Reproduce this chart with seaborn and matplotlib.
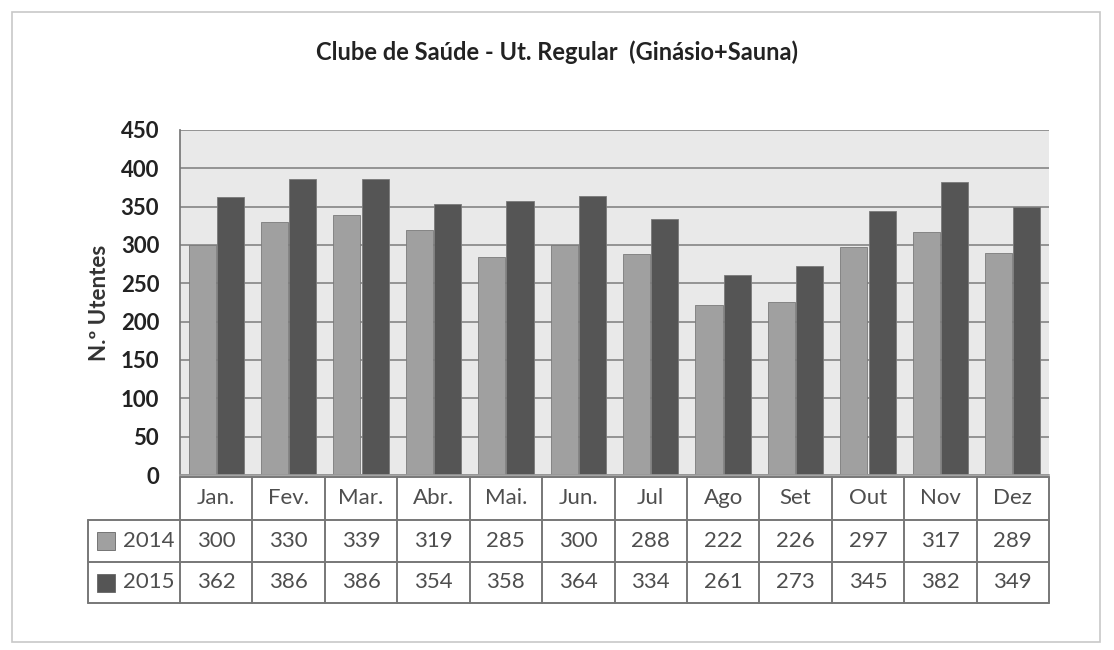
"""
plot.py
Clube de Saúde - utilização regular, 2014 vs 2015, com tabela de dados por baixo.
"""

import numpy as np
import pandas as pd
import matplotlib.pyplot as plt
import matplotlib.transforms as mtransforms
from matplotlib.patches import Rectangle
import seaborn as sns

months   = ["Jan.", "Fev.", "Mar.", "Abr.", "Mai.", "Jun.",
            "Jul", "Ago", "Set", "Out", "Nov", "Dez"]
years    = ["2014", "2015"]
vals2014 = [300, 330, 339, 319, 285, 300, 288, 222, 226, 297, 317, 289]
vals2015 = [362, 386, 386, 354, 358, 364, 334, 261, 273, 345, 382, 349]
yticks   = [0, 50, 100, 150, 200, 250, 300, 350, 400, 450]

title  = "Clube de Saúde - Ut. Regular  (Ginásio+Sauna)"
ylabel = "N.º Utentes"

colors = {"2014": "#a0a0a0", "2015": "#555555"}

df = pd.DataFrame({
    "mes":   months * 2,
    "ano":   ["2014"] * len(months) + ["2015"] * len(months),
    "valor": vals2014 + vals2015,
})

sns.set_theme(style="white")
plt.rcParams["font.family"] = ["Lato", "DejaVu Sans"]

W, H = 1114, 650
fig = plt.figure(figsize=(W / 100, H / 100), dpi=100)

# outer chart frame
fig.patches.append(Rectangle((12 / W, 8 / H), 1088 / W, 630 / H,
                             transform=fig.transFigure, fill=False,
                             edgecolor="#c8c8c8", lw=1.2))

ax_l, ax_r, ax_t, ax_b = 180, 1049, 130, 475
ax = fig.add_axes([ax_l / W, 1 - ax_b / H, (ax_r - ax_l) / W, (ax_b - ax_t) / H])
ax.set_facecolor("#e9e9e9")

sns.barplot(data=df, x="mes", y="valor", hue="ano", order=months,
            hue_order=years, palette=colors, width=0.78, gap=0.04,
            edgecolor="#7a7a7a", linewidth=0.6, legend=False, ax=ax)

ax.set_xlim(-0.5, len(months) - 0.5)
ax.set_ylim(0, 450)
ax.set_yticks(yticks)
ax.set_yticklabels([str(t) for t in yticks], fontsize=16, fontweight="bold",
                   color="#222222")
ax.tick_params(axis="y", length=5, width=1, color="#777777", pad=10)
ax.set_xticks([])
ax.set_xlabel("")
ax.set_ylabel(ylabel, fontsize=16, fontweight="bold", color="#333333", labelpad=8)
ax.yaxis.grid(True, color="#7c7c7c", lw=1.1)
ax.set_axisbelow(True)
for side in ["top", "right"]:
    ax.spines[side].set_visible(False)
ax.spines["left"].set_color("#777777")
ax.spines["bottom"].set_color("#999999")

fig.text(0.5, 1 - 52 / H, title, ha="center", va="center",
         fontsize=17, fontweight="bold", color="#222222")

# data table underneath the axes
trans = mtransforms.blended_transform_factory(ax.transData, ax.transAxes)
ax_h = ax_b - ax_t
band = (ax_r - ax_l) / len(months)

def yfrac(ypx):
    return (ax_b - ypx) / ax_h

def xdata(xpx):
    return -0.5 + (xpx - ax_l) / band

rows_px = [477, 520, 562, 603]
r = [yfrac(p) for p in rows_px]
x_left = xdata(88)
x_right = len(months) - 0.5
line_kw = dict(color="#777777", lw=1.4, transform=trans, clip_on=False)

# horizontal lines
ax.plot([-0.5, x_right], [r[0], r[0]], **line_kw)
for yy in r[1:]:
    ax.plot([x_left, x_right], [yy, yy], **line_kw)
# vertical lines
for i in range(len(months) + 1):
    ax.plot([i - 0.5, i - 0.5], [r[0], r[3]], **line_kw)
ax.plot([x_left, x_left], [r[1], r[3]], **line_kw)

txt_kw = dict(transform=trans, ha="center", va="center", fontsize=16,
              color="#4e4e4e", clip_on=False)
for i, m in enumerate(months):
    ax.text(i, (r[0] + r[1]) / 2, m, **txt_kw)
    ax.text(i, (r[1] + r[2]) / 2, str(vals2014[i]), **txt_kw)
    ax.text(i, (r[2] + r[3]) / 2, str(vals2015[i]), **txt_kw)

sq = 18 / ax_h
for k, yr in enumerate(years):
    yc = (r[k + 1] + r[k + 2]) / 2
    ax.text(xdata(175), yc, yr, transform=trans, ha="right", va="center",
            fontsize=16, color="#4e4e4e", clip_on=False)
    ax.add_patch(Rectangle((xdata(97), yc - sq / 2), xdata(115) - xdata(97), sq,
                           transform=trans, facecolor=colors[yr],
                           edgecolor="#666666", lw=0.6, clip_on=False))

fig.savefig("out.png", dpi=100)
